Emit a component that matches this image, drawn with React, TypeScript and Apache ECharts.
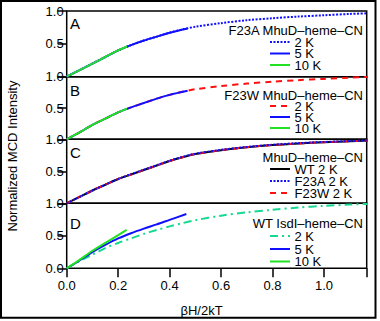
import React, { useEffect, useRef } from "react";
import * as echarts from "echarts";

// ---- data ----
const xTicks = [0, 0.2, 0.4, 0.6, 0.8, 1.0];
const X_MAX = 1.166;
const panelLetters = ["A", "B", "C", "D"];
const panelTitles = ["F23A MhuD\u2013heme\u2013CN", "F23W MhuD\u2013heme\u2013CN", "MhuD\u2013heme\u2013CN", "WT IsdI\u2013heme\u2013CN"];

const a2K = [[0,0],[0.05,0.10],[0.1,0.20],[0.15,0.30],[0.2,0.40],[0.25,0.48],[0.3,0.55],[0.35,0.61],[0.4,0.67],[0.45,0.72],[0.5,0.76],[0.6,0.815],[0.7,0.86],[0.8,0.89],[0.9,0.915],[1.0,0.935],[1.1,0.955],[1.17,0.965]];
const a5K = [[0,0],[0.05,0.10],[0.1,0.20],[0.15,0.30],[0.2,0.40],[0.25,0.48],[0.3,0.55],[0.35,0.61],[0.4,0.67],[0.47,0.735]];
const a10K = [[0,0],[0.05,0.10],[0.1,0.20],[0.15,0.30],[0.2,0.40],[0.235,0.46]];

const b2K = [[0,0],[0.05,0.11],[0.1,0.23],[0.15,0.33],[0.2,0.43],[0.25,0.51],[0.3,0.58],[0.35,0.65],[0.4,0.71],[0.45,0.76],[0.5,0.80],[0.6,0.85],[0.7,0.89],[0.8,0.92],[0.9,0.945],[1.0,0.965],[1.1,0.985],[1.17,0.995]];
const b5K = [[0,0],[0.05,0.11],[0.1,0.23],[0.15,0.33],[0.2,0.43],[0.25,0.51],[0.3,0.58],[0.35,0.65],[0.4,0.71],[0.47,0.775]];
const b10K = [[0,0],[0.05,0.11],[0.1,0.23],[0.15,0.33],[0.2,0.43],[0.235,0.49]];

const cWT = [[0,0],[0.05,0.10],[0.1,0.20],[0.15,0.29],[0.2,0.38],[0.25,0.45],[0.3,0.52],[0.35,0.59],[0.4,0.66],[0.45,0.72],[0.5,0.77],[0.6,0.83],[0.7,0.875],[0.8,0.91],[0.9,0.935],[1.0,0.955],[1.1,0.97],[1.17,0.98]];
const cF23A = [[0,0],[0.05,0.10],[0.1,0.20],[0.15,0.29],[0.2,0.38],[0.25,0.455],[0.3,0.525],[0.35,0.595],[0.4,0.665],[0.45,0.725],[0.5,0.775],[0.6,0.835],[0.7,0.88],[0.8,0.915],[0.9,0.94],[1.0,0.958],[1.1,0.972],[1.17,0.982]];
const cF23W = [[0,0],[0.05,0.10],[0.1,0.20],[0.15,0.29],[0.2,0.38],[0.25,0.45],[0.3,0.52],[0.35,0.59],[0.4,0.66],[0.45,0.72],[0.5,0.77],[0.6,0.83],[0.7,0.875],[0.8,0.91],[0.9,0.935],[1.0,0.955],[1.1,0.97],[1.17,0.98]];

const d2K = [[0,0],[0.05,0.11],[0.1,0.21],[0.15,0.31],[0.2,0.39],[0.25,0.46],[0.3,0.53],[0.35,0.59],[0.4,0.645],[0.45,0.695],[0.5,0.74],[0.6,0.81],[0.7,0.86],[0.8,0.90],[0.9,0.935],[1.0,0.96],[1.1,0.98],[1.17,0.99]];
const d5K = [[0,0],[0.05,0.12],[0.1,0.25],[0.15,0.36],[0.2,0.46],[0.25,0.54],[0.3,0.61],[0.35,0.675],[0.4,0.745],[0.465,0.835]];
const d10K = [[0,0],[0.05,0.13],[0.1,0.27],[0.15,0.39],[0.2,0.51],[0.233,0.59]];

// ---- styling ----
const BLUE = "#1010ff";
const GREEN = "#22e022";
const RED = "#ff1010";
const TEAL = "#14d990";
const BLACK = "#000000";
const FONT = "'Liberation Sans', Arial, sans-serif";

const tops = [11, 76.7, 139.3, 203.3];
const bottoms = [76.7, 139.3, 203.3, 268.3];
const LEFT = 66.7;
const RIGHT = 366.7;

const DOT = [2, 1.5];
const DASH = [6, 5];
const DASHDOT = [8, 4, 2, 4];

type Ser = { data: number[][]; color: string; dash: any; panel: number; label: string };

const seriesDefs: Ser[] = [
  { data: a2K, color: BLUE, dash: DOT, panel: 0, label: "2 K" },
  { data: a5K, color: BLUE, dash: "solid", panel: 0, label: "5 K" },
  { data: a10K, color: GREEN, dash: "solid", panel: 0, label: "10 K" },
  { data: b2K, color: RED, dash: DASH, panel: 1, label: "2 K" },
  { data: b5K, color: BLUE, dash: "solid", panel: 1, label: "5 K" },
  { data: b10K, color: GREEN, dash: "solid", panel: 1, label: "10 K" },
  { data: cWT, color: BLACK, dash: "solid", panel: 2, label: "WT 2 K" },
  { data: cF23W, color: RED, dash: DASH, panel: 2, label: "F23W 2 K" },
  { data: cF23A, color: BLUE, dash: DOT, panel: 2, label: "F23A 2 K" },
  { data: d2K, color: TEAL, dash: DASHDOT, panel: 3, label: "2 K" },
  { data: d5K, color: BLUE, dash: "solid", panel: 3, label: "5 K" },
  { data: d10K, color: GREEN, dash: "solid", panel: 3, label: "10 K" },
];

// legend order per panel (as in reference)
const legendOrder = [
  [0, 1, 2],
  [3, 4, 5],
  [6, 8, 7],
  [9, 10, 11],
];
const legendTitleY = [30, 95, 157, 223];
const legendRowY = [
  [42, 53.5, 65],
  [106, 117, 128],
  [169, 181, 193],
  [236, 249, 261.5],
];
const letterY = [23, 90, 152, 223];

export default function App() {
  const ref = useRef<HTMLDivElement>(null);
  useEffect(() => {
    if (!ref.current) return;
    const chart = echarts.init(ref.current, undefined, { renderer: "svg" });

    const grids = tops.map((t, i) => ({
      left: LEFT,
      top: t,
      width: RIGHT - LEFT,
      height: bottoms[i] - t,
      show: true,
      borderColor: "#000",
      borderWidth: 1.5,
      backgroundColor: "transparent",
    }));

    const xAxes = tops.map((_, i) => ({
      type: "value",
      gridIndex: i,
      min: 0,
      max: X_MAX,
      interval: 0.2,
      axisLine: { show: false },
      splitLine: { show: false },
      axisTick: {
        show: i === 3,
        inside: false,
        length: 9,
        lineStyle: { color: "#000", width: 1.5 },
      },
      axisLabel: {
        show: i === 3,
        fontSize: 13,
        fontFamily: FONT,
        color: "#000",
        margin: 11,
        formatter: (v: number) => (xTicks.some((t) => Math.abs(t - v) < 1e-6) ? v.toFixed(1) : ""),
      },
    }));

    const yAxes = tops.map((_, i) => ({
      type: "value",
      gridIndex: i,
      min: 0,
      max: 1,
      interval: 0.5,
      axisLine: { show: false },
      splitLine: { show: false },
      axisTick: {
        show: true,
        inside: false,
        length: 9,
        lineStyle: { color: "#000", width: 1.5 },
      },
      axisLabel: {
        fontSize: 13,
        fontFamily: FONT,
        color: "#000",
        margin: 3,
        lineHeight: 11,
        formatter: (v: number) => (v === 0 && i !== 3 ? "" : v.toFixed(1)),
      },
    }));

    const series = seriesDefs.map((s) => ({
      type: "line",
      xAxisIndex: s.panel,
      yAxisIndex: s.panel,
      data: s.data,
      showSymbol: false,
      smooth: 0.3,
      clip: true,
      lineStyle: { color: s.color, width: 2, type: s.dash },
    }));

    const graphics: any[] = [];
    // outer border
    graphics.push({
      type: "rect",
      shape: { x: 1, y: 1, width: 374.5, height: 316.7 },
      style: { fill: "none", stroke: "#000", lineWidth: 2 },
      silent: true,
    });
    // panel letters
    panelLetters.forEach((l, i) => {
      graphics.push({
        type: "text",
        x: 70,
        y: letterY[i],
        style: { text: l, font: `15px ${FONT}`, fill: "#000", textAlign: "left", textVerticalAlign: "middle", lineHeight: 12 },
      });
    });
    // legends
    panelTitles.forEach((t, i) => {
      graphics.push({
        type: "text",
        x: 363,
        y: legendTitleY[i],
        style: { text: t, font: `13px ${FONT}`, fill: "#000", textAlign: "right", textVerticalAlign: "middle", lineHeight: 10 },
      });
      legendOrder[i].forEach((si, r) => {
        const s = seriesDefs[si];
        const y = legendRowY[i][r];
        graphics.push({
          type: "line",
          shape: { x1: 270, y1: y, x2: 290, y2: y },
          style: { stroke: s.color, lineWidth: 2, lineDash: s.dash === "solid" ? null : s.dash },
        });
        graphics.push({
          type: "text",
          x: 294.5,
          y: y,
          style: { text: s.label, font: `13px ${FONT}`, fill: "#000", textAlign: "left", textVerticalAlign: "middle", lineHeight: 10 },
        });
      });
    });
    // axis titles
    graphics.push({
      type: "text",
      x: 12,
      y: 156,
      rotation: Math.PI / 2,
      style: { text: "Normalized MCD Intensity", font: `13px ${FONT}`, fill: "#000", textAlign: "center", textVerticalAlign: "middle" },
    });
    graphics.push({
      type: "text",
      x: 201.5,
      y: 310,
      style: { text: "\u03b2H/2kT", font: `13px ${FONT}`, fill: "#000", textAlign: "center", textVerticalAlign: "middle" },
    });

    chart.setOption({
      animation: false,
      backgroundColor: "#fff",
      grid: grids,
      xAxis: xAxes,
      yAxis: yAxes,
      series,
      graphic: graphics,
    });
    return () => chart.dispose();
  }, []);
  return (
    <div
      ref={ref}
      style={{ position: "fixed", left: 0, top: 0, width: 380, height: 321 }}
    />
  );
}
